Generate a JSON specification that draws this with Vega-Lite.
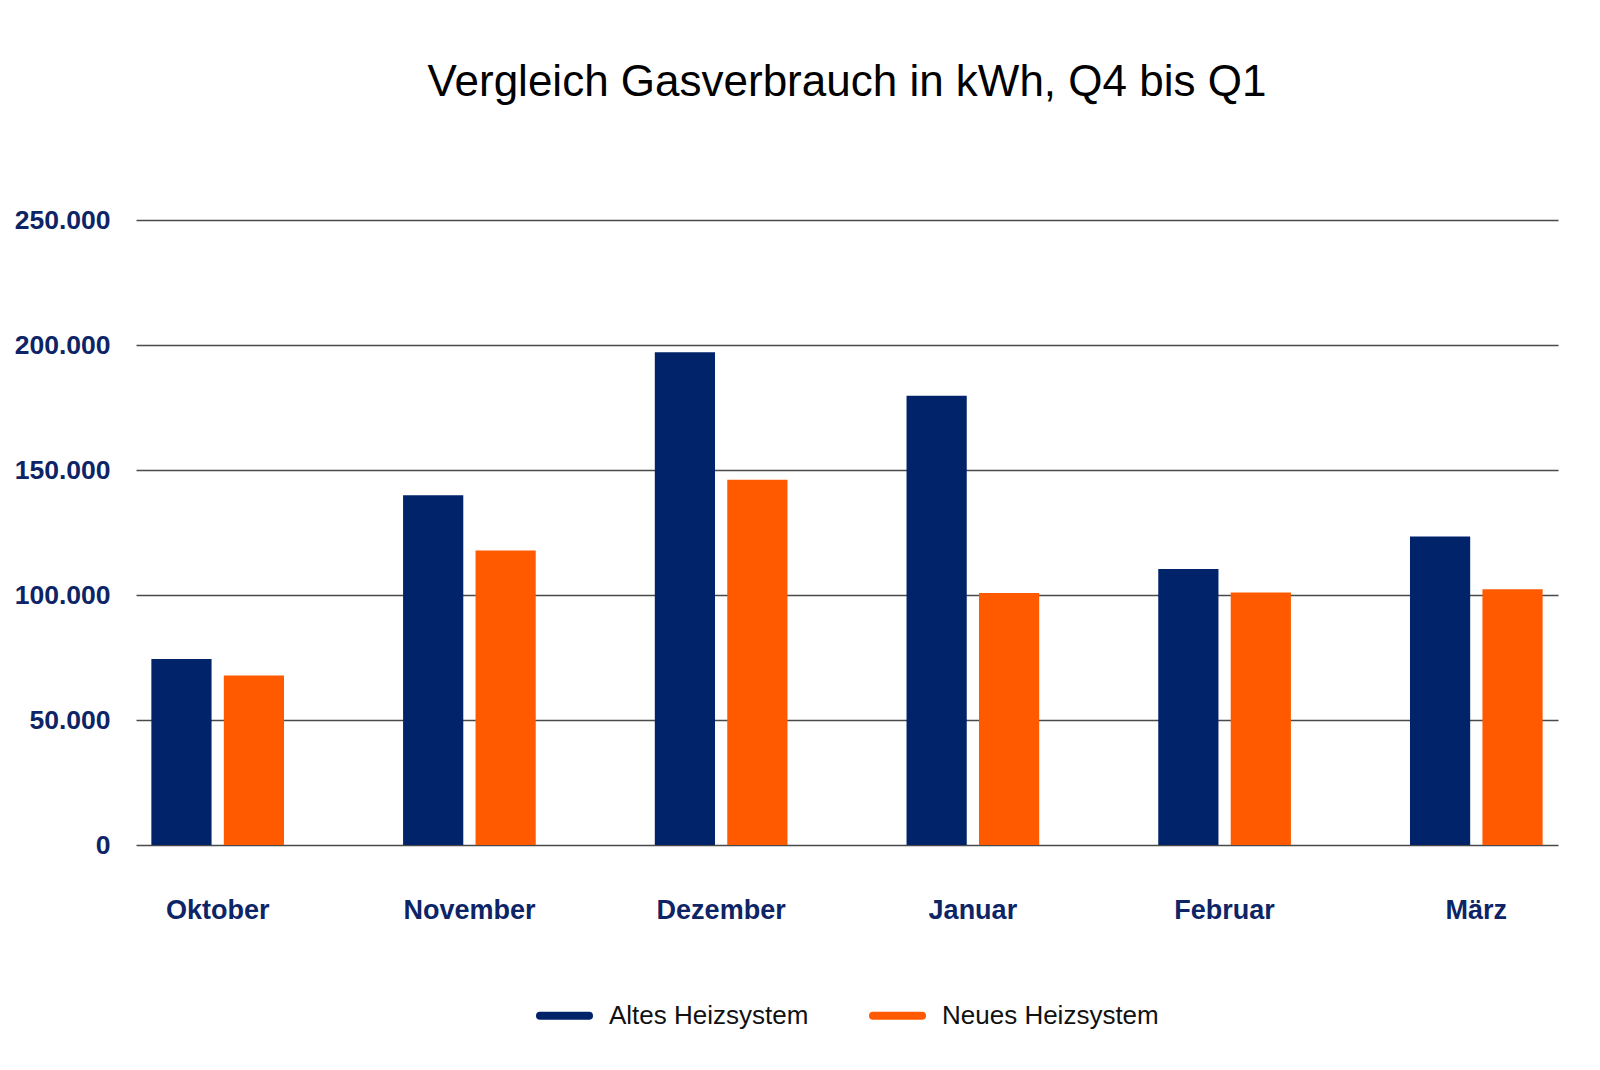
{
  "$schema": "https://vega.github.io/schema/vega-lite/v6.json",
  "autosize": {"type": "none"},
  "width": 1422,
  "height": 625,
  "padding": {"left": 136, "top": 220, "right": 42, "bottom": 225},
  "background": "#ffffff",
  "title": {
    "text": "Vergleich Gasverbrauch in kWh, Q4 bis Q1",
    "font": "Liberation Sans",
    "fontSize": 44,
    "fontWeight": "normal",
    "color": "#000000",
    "anchor": "middle",
    "offset": 102
  },
  "config": {
    "locale": {"number": {"decimal": ",", "thousands": ".", "grouping": [3], "currency": ["", " €"]}},
    "view": {"stroke": null}
  },
  "data": {
    "values": [
      {"monat": "Oktober", "system": "Altes Heizsystem", "kwh": 74400},
      {"monat": "Oktober", "system": "Neues Heizsystem", "kwh": 67800},
      {"monat": "November", "system": "Altes Heizsystem", "kwh": 139900},
      {"monat": "November", "system": "Neues Heizsystem", "kwh": 117800},
      {"monat": "Dezember", "system": "Altes Heizsystem", "kwh": 197100},
      {"monat": "Dezember", "system": "Neues Heizsystem", "kwh": 146100},
      {"monat": "Januar", "system": "Altes Heizsystem", "kwh": 179700},
      {"monat": "Januar", "system": "Neues Heizsystem", "kwh": 100800},
      {"monat": "Februar", "system": "Altes Heizsystem", "kwh": 110400},
      {"monat": "Februar", "system": "Neues Heizsystem", "kwh": 101000},
      {"monat": "März", "system": "Altes Heizsystem", "kwh": 123400},
      {"monat": "März", "system": "Neues Heizsystem", "kwh": 102300}
    ]
  },
  "mark": {"type": "bar"},
  "encoding": {
    "x": {
      "field": "monat",
      "type": "nominal",
      "sort": ["Oktober", "November", "Dezember", "Januar", "Februar", "März"],
      "scale": {"paddingInner": 0.473, "paddingOuter": 0.061},
      "axis": {
        "title": null,
        "labelAngle": 0,
        "domain": false,
        "ticks": false,
        "tickSize": 0,
        "labelPadding": 52,
        "labelFont": "Liberation Sans",
        "labelFontSize": 27,
        "labelFontWeight": "bold",
        "labelColor": "#0d2466"
      }
    },
    "xOffset": {
      "field": "system",
      "type": "nominal",
      "sort": ["Altes Heizsystem", "Neues Heizsystem"],
      "scale": {"paddingInner": 0.169, "paddingOuter": 0}
    },
    "y": {
      "field": "kwh",
      "type": "quantitative",
      "scale": {"domain": [0, 250000], "nice": false},
      "axis": {
        "title": null,
        "values": [0, 50000, 100000, 150000, 200000, 250000],
        "format": ",.0f",
        "domain": false,
        "ticks": false,
        "tickSize": 0,
        "labelPadding": 26,
        "labelFont": "Liberation Sans",
        "labelFontSize": 26.5,
        "labelFontWeight": "bold",
        "labelColor": "#0d2466",
        "grid": true,
        "gridColor": "#4a4a4a",
        "gridWidth": 1.5,
        "gridOpacity": 1
      }
    },
    "color": {
      "field": "system",
      "type": "nominal",
      "sort": ["Altes Heizsystem", "Neues Heizsystem"],
      "scale": {"domain": ["Altes Heizsystem", "Neues Heizsystem"], "range": ["#01236a", "#ff5a00"]},
      "legend": {
        "title": null,
        "orient": "none",
        "direction": "horizontal",
        "legendX": 400,
        "legendY": 767,
        "padding": 0,
        "symbolType": "stroke",
        "symbolSize": 2401,
        "symbolStrokeWidth": 8,
        "labelFont": "Liberation Sans",
        "labelFontSize": 26,
        "labelColor": "#111111",
        "labelOffset": 16,
        "columnPadding": 48,
        "labelLimit": 400,
        "encode": {
          "symbols": {
            "update": {
              "stroke": {"scale": "color", "field": "value"},
              "strokeCap": {"value": "round"},
              "fillOpacity": {"value": 0}
            }
          }
        }
      }
    }
  }
}
